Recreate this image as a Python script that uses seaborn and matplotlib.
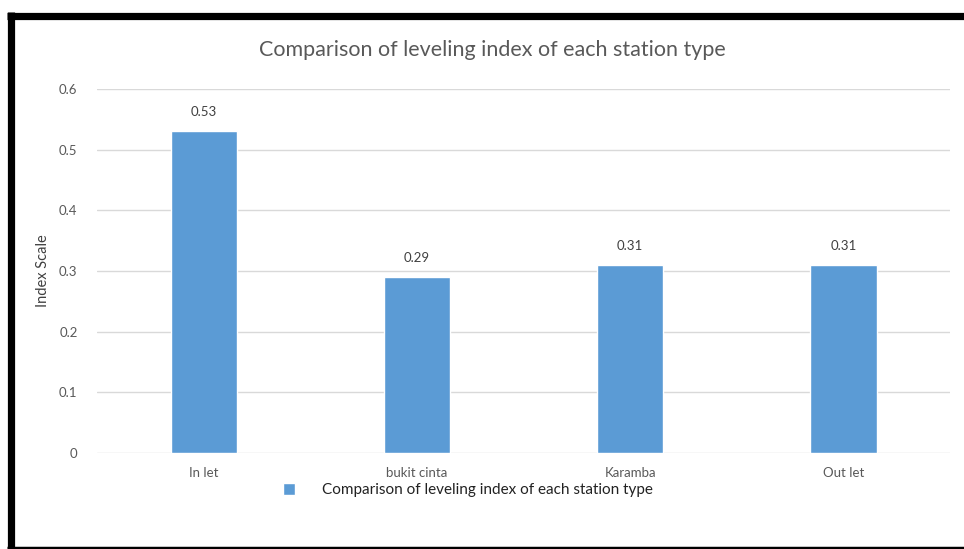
import matplotlib
matplotlib.use("Agg")
import matplotlib.pyplot as plt
from matplotlib.lines import Line2D
import seaborn as sns
import pandas as pd

stations = ["In let", "bukit cinta", "Karamba", "Out let"]
index_values = [0.53, 0.29, 0.31, 0.31]
series_name = "Comparison of leveling index of each station type"

df = pd.DataFrame({"station": stations, "index": index_values})

sns.set_style("white")
plt.rcParams["font.family"] = ["Lato", "DejaVu Sans"]

fig = plt.figure(figsize=(9.64, 5.49), dpi=100)
ax = fig.add_axes([0.1006, 0.1749, 0.885, 0.6630])

sns.barplot(data=df, x="station", y="index", color="#5B9BD5", width=0.31,
            saturation=1, ax=ax, label=series_name)

for i, v in enumerate(index_values):
    ax.text(i, v + 0.022, f"{v:.2f}", ha="center", va="bottom",
            fontsize=9.5, color="#404040")

ax.set_ylim(0, 0.6)
ax.set_yticks([0, 0.1, 0.2, 0.3, 0.4, 0.5, 0.6])
ax.set_yticklabels(["0", "0.1", "0.2", "0.3", "0.4", "0.5", "0.6"])
ax.yaxis.grid(True, color="#D9D9D9", linewidth=1)
ax.set_axisbelow(True)
for s in ax.spines.values():
    s.set_visible(False)
ax.tick_params(axis="both", length=0, labelsize=9.5, colors="#595959", pad=10)
ax.tick_params(axis="y", pad=14)
ax.set_xlabel("")
ax.set_ylabel("Index Scale", fontsize=10.5, color="#404040")
ax.yaxis.set_label_coords(-0.055, 0.5)

ax.set_title("Comparison of leveling index of each station type",
             fontsize=15.5, color="#595959", pad=24, x=0.463)

ax.legend(loc="upper center", bbox_to_anchor=(0.435, -0.045), frameon=False,
          fontsize=11, handlelength=0.8, handleheight=0.8, handletextpad=1.75,
          labelcolor="#222222")

# black frame of the screenshot
fig.add_artist(Line2D([10.5 / 964, 10.5 / 964], [1 - 12 / 549, 0],
                      transform=fig.transFigure, color="black", linewidth=5.2,
                      solid_capstyle="butt"))
fig.add_artist(Line2D([7 / 964, 1], [1 - 15.5 / 549, 1 - 15.5 / 549],
                      transform=fig.transFigure, color="black", linewidth=5.2,
                      solid_capstyle="butt"))
fig.add_artist(Line2D([7 / 964, 1], [1 - 548 / 549, 1 - 548 / 549],
                      transform=fig.transFigure, color="black", linewidth=2.5,
                      solid_capstyle="butt"))

fig.savefig("out.png", dpi=100)
